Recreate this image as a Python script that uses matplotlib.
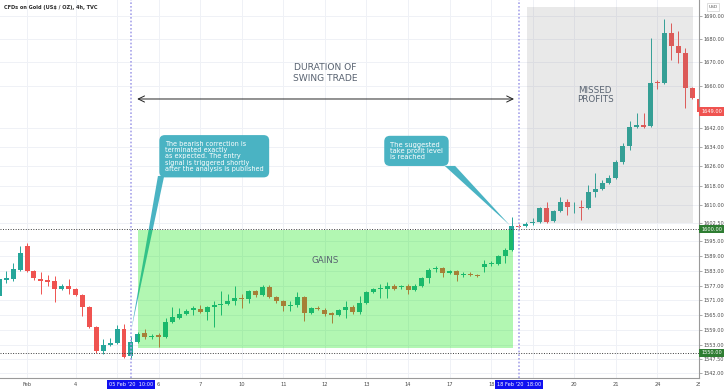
import matplotlib
matplotlib.use("Agg")
import matplotlib.pyplot as plt
import matplotlib.transforms as mtransforms
from matplotlib.patches import Rectangle, Polygon

# Gold CFD, 4h candles (Feb 3 - Feb 24 2020), x = bar index
opens = [1572.7, 1579.4, 1579.5, 1583.5, 1593.2, 1582.8, 1579.7, 1579.2, 1578.8, 1575.8,
         1576.7, 1575.8, 1573.0, 1568.4, 1560.2, 1550.9, 1553.2, 1554.1, 1559.5, 1548.6,
         1554.5, 1557.9, 1556.3, 1557.2, 1556.3, 1562.4, 1564.0, 1565.6, 1567.0, 1567.7,
         1566.4, 1568.4, 1569.1, 1569.7, 1570.7, 1571.8, 1571.4, 1574.6, 1573.0, 1576.6,
         1572.3, 1570.7, 1568.7, 1569.0, 1572.2, 1566.0, 1568.1, 1567.3, 1565.8, 1565.3,
         1567.0, 1568.4, 1566.2, 1570.0, 1574.3, 1575.6, 1575.7, 1576.7, 1576.3, 1577.0,
         1575.1, 1577.0, 1580.1, 1583.8, 1584.0, 1582.1, 1582.8, 1581.1, 1581.8, 1581.2,
         1584.4, 1585.6, 1585.9, 1588.9, 1591.6, 1601.3, 1601.4, 1602.4, 1603.1, 1608.7,
         1603.4, 1607.5, 1611.2, 1609.0, 1609.1, 1608.9, 1615.3, 1616.6, 1619.1, 1621.1,
         1627.8, 1634.5, 1642.6, 1643.3, 1642.9, 1661.6, 1661.2, 1682.6, 1677.0, 1674.0,
         1659.0, 1654.6]
highs = [1580.3, 1582.8, 1586.2, 1593.2, 1594.3, 1583.5, 1582.4, 1581.2, 1580.8, 1577.8,
         1579.5, 1576.2, 1573.4, 1568.8, 1560.6, 1555.6, 1556.0, 1561.2, 1561.7, 1556.8,
         1558.4, 1559.6, 1557.6, 1557.8, 1564.0, 1568.4, 1568.0, 1567.5, 1568.9, 1569.3,
         1568.9, 1570.7, 1574.7, 1573.4, 1577.0, 1573.4, 1575.4, 1575.2, 1577.4, 1577.2,
         1572.8, 1571.2, 1570.7, 1574.3, 1572.8, 1568.4, 1568.8, 1568.0, 1566.5, 1567.6,
         1570.7, 1569.0, 1572.7, 1574.8, 1576.2, 1577.7, 1578.4, 1577.8, 1577.2, 1577.6,
         1577.6, 1580.6, 1584.0, 1585.1, 1584.6, 1583.4, 1583.3, 1582.3, 1582.4, 1581.6,
         1587.5, 1586.8, 1589.4, 1592.2, 1605.1, 1602.0, 1602.8, 1604.5, 1609.2, 1611.3,
         1608.0, 1613.3, 1612.3, 1611.3, 1612.0, 1618.2, 1623.4, 1620.4, 1622.4, 1628.6,
         1635.9, 1645.2, 1648.3, 1648.3, 1680.4, 1662.5, 1688.7, 1687.1, 1683.6, 1676.0,
         1659.5, 1655.2]
lows = [1571.4, 1578.2, 1578.9, 1583.0, 1582.5, 1579.3, 1573.4, 1577.0, 1570.3, 1575.2,
        1573.4, 1572.6, 1564.9, 1559.8, 1549.8, 1549.6, 1552.8, 1553.6, 1547.8, 1547.5,
        1553.8, 1555.5, 1555.4, 1552.5, 1555.8, 1562.0, 1563.5, 1565.2, 1565.3, 1566.0,
        1563.3, 1560.3, 1565.3, 1569.2, 1569.3, 1568.0, 1570.0, 1572.5, 1572.6, 1571.8,
        1570.0, 1566.9, 1566.6, 1568.5, 1562.6, 1565.4, 1567.0, 1564.7, 1561.9, 1564.6,
        1564.0, 1565.6, 1565.6, 1569.6, 1573.8, 1572.0, 1572.0, 1575.3, 1575.8, 1573.4,
        1574.6, 1576.5, 1578.1, 1582.4, 1580.5, 1581.6, 1578.8, 1580.6, 1580.7, 1580.3,
        1582.4, 1585.0, 1585.4, 1586.2, 1591.0, 1600.4, 1600.9, 1601.9, 1602.6, 1602.6,
        1602.9, 1607.0, 1605.8, 1606.5, 1603.6, 1608.4, 1613.3, 1616.0, 1618.6, 1620.6,
        1627.1, 1632.8, 1642.0, 1642.2, 1642.4, 1658.5, 1660.6, 1671.2, 1669.6, 1650.6,
        1654.3, 1648.5]
closes = [1579.5, 1580.0, 1583.8, 1590.3, 1582.8, 1579.9, 1579.0, 1578.6, 1575.8, 1577.0,
          1575.8, 1573.0, 1568.4, 1560.2, 1550.9, 1553.2, 1554.1, 1559.5, 1548.4, 1554.5,
          1557.6, 1556.3, 1556.9, 1556.3, 1562.3, 1564.2, 1565.6, 1566.9, 1567.8, 1566.4,
          1568.4, 1569.2, 1569.6, 1570.6, 1571.8, 1571.4, 1574.6, 1573.0, 1576.6, 1572.3,
          1570.7, 1568.7, 1569.0, 1572.2, 1566.0, 1567.8, 1567.6, 1565.6, 1565.3, 1567.0,
          1568.4, 1566.2, 1570.0, 1574.3, 1575.7, 1575.9, 1576.7, 1575.8, 1576.7, 1575.1,
          1577.0, 1580.1, 1583.5, 1584.2, 1582.1, 1582.8, 1581.1, 1581.8, 1581.2, 1580.8,
          1585.6, 1586.2, 1588.9, 1591.6, 1601.3, 1600.9, 1602.1, 1603.0, 1608.7, 1603.1,
          1607.5, 1611.2, 1609.1, 1609.2, 1608.8, 1615.3, 1616.6, 1619.1, 1621.1, 1627.8,
          1634.5, 1642.5, 1643.3, 1642.6, 1661.2, 1661.0, 1682.6, 1677.0, 1674.0, 1659.0,
          1654.8, 1649.0]

# day labels on the time axis (bar index of first bar of each day)
day_pos = [4, 11, 17, 23, 29, 35, 41, 47, 53, 59, 65, 71, 77, 83, 89, 95, 101]
day_labels = ['Feb', '4', '', '6', '7', '10', '11', '12', '13', '14', '17', '18', '', '20', '21', '24', '25']

price_ticks = [1690, 1680, 1670, 1660, 1642, 1634, 1626, 1618, 1610, 1602.5,
               1595, 1589, 1583, 1577, 1571, 1565, 1559, 1553, 1547.5, 1542]

entry_bar = 19      # 05 Feb '20 10:00
exit_bar = 75       # 18 Feb '20 18:00
entry_level = 1550.0
target_level = 1600.0
last_price = 1649.0

UP = '#26a69a'
DOWN = '#ef5350'
TXT = '#596371'

fig = plt.figure(figsize=(7.28, 3.91), dpi=100)
ax = fig.add_axes([0, 13 / 391, 699 / 728, 378 / 391])
ax.set_yscale('log')

# candles
x = list(range(len(opens)))
cols = [UP if c >= o else DOWN for o, c in zip(opens, closes)]
bottoms = [min(o, c) for o, c in zip(opens, closes)]
heights = [max(abs(c - o), 0.3) for o, c in zip(opens, closes)]
ax.vlines(x, lows, highs, colors=cols, lw=0.7, zorder=2)
ax.bar(x, heights, bottom=bottoms, width=0.72, color=cols, linewidth=0, zorder=2.1)

ax.set_xlim(0.1, 101.0)
ax.set_ylim(1540, 1697)

# zones
ax.add_patch(Rectangle((20.0, 1552.0), 54.1, 47.7, fc=(0.0, 0.9, 0.0), alpha=0.3,
                       ec='none', zorder=3))
ax.add_patch(Rectangle((76.1, 1602.5), 24.0, 91.5, fc='#808080', alpha=0.17,
                       ec='none', zorder=3))

# levels and time markers
for lvl in (target_level, entry_level):
    ax.axhline(lvl, color='#3c3c3c', lw=0.7, ls=(0, (1, 1.6)), zorder=3.5)
for b in (entry_bar, exit_bar):
    ax.axvline(b, color='#a8a4ea', lw=1.2, ls=(0, (1, 1.2)), zorder=3.5)

# duration arrow + labels
ax.annotate('', xy=(74.3, 1654.4), xytext=(19.9, 1654.4),
            arrowprops=dict(arrowstyle='<->,head_length=0.45,head_width=0.22',
                            color='#222222', lw=0.7, shrinkA=0, shrinkB=0), zorder=4)
ax.text(47.0, 1665.4, 'DURATION OF\nSWING TRADE', ha='center', va='center',
        fontsize=6.6, color=TXT, linespacing=1.25, zorder=4)
ax.text(86.0, 1656.1, 'MISSED\nPROFITS', ha='center', va='center',
        fontsize=6.3, color=TXT, linespacing=1.1, zorder=4)
ax.text(47.1, 1587.3, 'GAINS', ha='center', va='center', fontsize=6.3, color=TXT, zorder=4)

# callouts
CALL = '#4ab3c3'
ax.add_patch(Polygon([(22.9, 1622.0), (23.8, 1622.0), (19.05, 1559.1)], closed=True,
                     fc=CALL, ec='none', zorder=2.5))
ax.add_patch(Polygon([(64.3, 1626.2), (65.8, 1626.2), (73.7, 1601.6)], closed=True,
                     fc=CALL, ec='none', zorder=2.5))
ax.text(23.9, 1636.8, 'The bearish correction is\nterminated exactly\nas expected. The entry\n'
        'signal is triggered shortly\nafter the analysis is published',
        ha='left', va='top', fontsize=4.7, color='white', linespacing=1.06, zorder=8,
        bbox=dict(boxstyle='round,pad=0.85', fc=CALL, ec='none'))
ax.text(56.4, 1636.4, 'The suggested\ntake profit level\nis reached',
        ha='left', va='top', fontsize=4.9, color='white', linespacing=1.06, zorder=8,
        bbox=dict(boxstyle='round,pad=0.85', fc=CALL, ec='none'))

# axes styling
ax.grid(True, color='#eff1f6', lw=0.7)
ax.set_axisbelow(True)
ax.yaxis.tick_right()
ax.set_yticks(price_ticks, labels=[f'{v:.2f}' for v in price_ticks])
ax.minorticks_off()
ax.set_xticks(day_pos, labels=day_labels)
ax.tick_params(axis='y', labelsize=3.6, labelcolor='#4a4a4a', length=2.5, width=0.5,
               color='#888888', pad=1)
ax.tick_params(axis='x', labelsize=3.7, labelcolor='#4a4a4a', length=0, pad=3)
for s in ('top', 'left'):
    ax.spines[s].set_visible(False)
for s in ('bottom', 'right'):
    ax.spines[s].set_color('#9a9a9a')
    ax.spines[s].set_linewidth(0.8)

# price tags on the right axis
ty = mtransforms.blended_transform_factory(ax.transAxes, ax.transData)
for lvl, fc in ((last_price, '#ef5350'), (target_level, '#2e7d32'), (entry_level, '#2e7d32')):
    ax.text(1.003, lvl, f'{lvl:.2f}', transform=ty, ha='left', va='center', fontsize=3.6,
            color='white', clip_on=False, zorder=9,
            bbox=dict(boxstyle='square,pad=0.35', fc=fc, ec='none'))

# date tags on the time axis
tx = mtransforms.blended_transform_factory(ax.transData, ax.transAxes)
for b, lab in ((entry_bar, "05 Feb '20  10:00"), (exit_bar, "18 Feb '20  18:00")):
    ax.text(b, -0.0172, lab, transform=tx, ha='center', va='center', fontsize=3.6,
            color='white', clip_on=False, zorder=9,
            bbox=dict(boxstyle='square,pad=0.45', fc='#1010f0', ec='none'))

# title and currency box
fig.text(4 / 728, 1 - 7 / 391, 'CFDs on Gold (US$ / OZ), 4h, TVC', fontsize=3.6,
         fontweight='bold', color='#2b2b2b', va='center')
fig.text(713 / 728, 1 - 7 / 391, 'USD', fontsize=3.2, color='#555555', ha='center',
         va='center', bbox=dict(boxstyle='square,pad=0.4', fc='white', ec='#d0d0d0', lw=0.5))

# hide the overflow of the last day label beyond the price scale
fig.add_artist(Rectangle((700 / 728, 0), 28 / 728, 12 / 391, transform=fig.transFigure,
                         fc='white', ec='none', zorder=10))

fig.savefig('out.png', dpi=100)
